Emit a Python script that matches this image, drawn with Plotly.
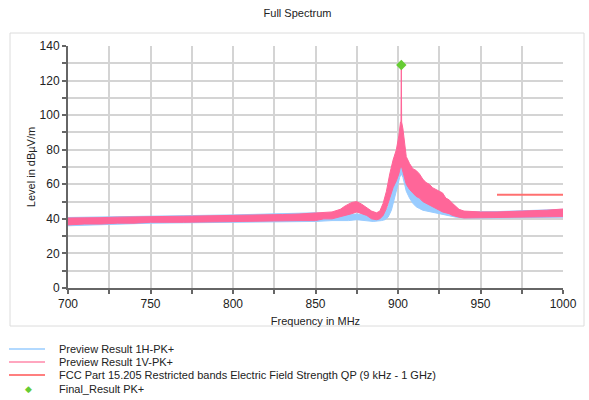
import plotly.graph_objects as go

# ---- data ----
v_freq = [700, 710, 720, 730, 740, 750, 760, 770, 780, 790, 800, 810, 820, 830, 840, 850,
          855, 860, 865, 868, 872, 875, 878, 881, 884, 887, 889, 891, 893, 895, 897, 899,
          900.5, 901.5, 901.8, 902, 902.2, 903, 904, 905, 907, 909, 911, 913, 915, 917, 919,
          921, 923, 925, 927, 929, 931, 933, 935, 937, 940, 950, 960, 970, 980, 990, 1000]
v_lo = [36.5, 37, 37, 37.5, 37.5, 38, 38, 38, 38.2, 38.3, 38.4, 38.6, 38.7, 38.8, 39, 39,
        40, 40, 41, 42, 43, 44, 43, 42, 40, 39.5, 40, 42, 46, 52, 58, 62,
        66, 70, 70, 70, 70, 68, 64, 60, 57, 55, 53, 52, 50, 49, 48,
        47, 46, 45, 44, 43.5, 43, 42, 41.5, 41, 40.5, 40.8, 40.8, 41, 41, 41.2, 41.3]
v_hi = [40.5, 40.5, 40.7, 41, 41, 41.2, 41.4, 41.5, 41.6, 41.8, 42, 42, 42.2, 42.5, 42.8, 43.3,
        43.5, 44, 45.5, 47.5, 49.5, 50, 48.5, 46.5, 44.5, 43.5, 44.5, 49, 56, 66, 74, 80,
        88, 96, 96, 129, 96, 92, 84, 76, 72, 69, 68, 66, 63, 61, 60,
        58, 57, 56, 55, 52, 51, 49, 47, 45.5, 44.5, 44, 44, 44.3, 44.5, 45, 45.7]

h_freq = [700, 750, 800, 850, 860, 870, 875, 880, 885, 890, 892, 894, 896, 898, 899.5, 901,
          902, 903, 904, 905, 907, 909, 911, 913, 915, 917, 920, 923, 926, 930, 935, 940,
          960, 1000]
h_lo = [36, 37.5, 38, 38.5, 39, 39, 39.5, 39, 38.5, 39, 39.5, 41, 45, 52, 58, 64,
        66, 64, 60, 56, 52, 49, 47, 46, 45, 44.5, 44, 43, 42.5, 42, 41, 40.5,
        40.5, 41]
h_hi = [40.8, 41.5, 42.3, 43.5, 42.5, 42.5, 42.8, 42.5, 42, 42.5, 43.5, 47, 55, 66, 72, 80,
        86, 82, 76, 70, 62, 57, 54, 52, 50, 49, 47.5, 46, 45, 44.5, 44.2, 44,
        44.2, 45.5]

limit_freq = [960, 1000]
limit_level = [54, 54]

final_freq = [902]
final_level = [129]

legend_names = ["Preview Result 1H-PK+", "Preview Result 1V-PK+",
                "FCC Part 15.205 Restricted bands Electric Field Strength QP (9 kHz - 1 GHz)",
                "Final_Result PK+"]

BLUE = "#99ccff"
PINK = "#ff6699"
RED = "#ff7070"
GREEN = "#66cc33"

fig = go.Figure()

def band(freq, lo, hi, color, name):
    fig.add_trace(go.Scatter(
        x=list(freq) + list(freq)[::-1],
        y=list(hi) + list(lo)[::-1],
        mode="lines", fill="toself", fillcolor=color,
        line=dict(color=color, width=1), name=name, showlegend=False,
        hoverinfo="skip"))

band(h_freq, h_lo, h_hi, BLUE, legend_names[0])
band(v_freq, v_lo, v_hi, PINK, legend_names[1])

fig.add_trace(go.Scatter(x=limit_freq, y=limit_level, mode="lines",
                         line=dict(color=RED, width=2), name=legend_names[2],
                         showlegend=False))
fig.add_trace(go.Scatter(x=final_freq, y=final_level, mode="markers",
                         marker=dict(symbol="diamond", size=8, color=GREEN),
                         name=legend_names[3], showlegend=False))

# ---- layout ----
W, H = 589, 400
L, R, T, B = 68, 26, 46, 112
pw, ph = W - L - R, H - T - B

def px2x(px):
    return (px - L) / pw

def py2y(py):
    return (H - B - py) / ph

axis_common = dict(
    showline=True, linecolor="#666666", linewidth=2,
    ticks="outside", ticklen=4, tickcolor="#666666", tickwidth=1.5,
    showgrid=True, gridcolor="#d4d4d4", gridwidth=1.5,
    zeroline=False, tickfont=dict(family="Liberation Sans, Arial", size=12, color="#222"),
)

fig.update_layout(
    width=W, height=H,
    margin=dict(l=L, r=R, t=T, b=B),
    paper_bgcolor="white", plot_bgcolor="white",
    showlegend=False,
    font=dict(family="Liberation Sans, Arial", size=11, color="#222"),
    title=dict(text="Full Spectrum", x=(L + pw / 2 - 18) / W, xanchor="center",
               y=1 - 13 / H, yanchor="middle",
               font=dict(size=11, color="#222")),
    xaxis=dict(range=[700, 1000], dtick=50, tick0=700,
               minor=dict(dtick=25, showgrid=True, gridcolor="#d4d4d4", gridwidth=1.5,
                          ticks="outside", ticklen=4, tickcolor="#666666"),
               title=dict(text="Frequency in MHz", standoff=7,
                          font=dict(size=11, color="#222")),
               **axis_common),
    yaxis=dict(range=[0, 140], dtick=20, tick0=0,
               minor=dict(dtick=10, showgrid=True, gridcolor="#d4d4d4", gridwidth=1.5,
                          ticks="outside", ticklen=4, tickcolor="#666666"),
               title=dict(text="Level in dBµV/m", standoff=2,
                          font=dict(size=11, color="#222")),
               ticklabelstandoff=0,
               **axis_common),
)

# outer frame
fig.add_shape(type="rect", xref="paper", yref="paper",
              x0=px2x(10), x1=px2x(584), y0=py2y(326), y1=py2y(33),
              line=dict(color="#dcdcdc", width=1), layer="below")

# manual legend
rows = [349, 362, 375, 389]
swatch_colors = [BLUE, "#ff88aa", "#ff5555"]
for i, name in enumerate(legend_names):
    yy = py2y(rows[i])
    if i < 3:
        fig.add_shape(type="line", xref="paper", yref="paper",
                      x0=px2x(9), x1=px2x(45), y0=yy, y1=yy,
                      line=dict(color=swatch_colors[i], width=1.5))
    else:
        fig.add_annotation(x=px2x(28), y=yy, xref="paper", yref="paper",
                           text="◆", showarrow=False, xanchor="center", yanchor="middle",
                           font=dict(size=9, color=GREEN))
    fig.add_annotation(x=px2x(57), y=yy, xref="paper", yref="paper",
                       text=name, showarrow=False, xanchor="left", yanchor="middle",
                       font=dict(size=11, color="#222"))

fig.write_html("out.html")
